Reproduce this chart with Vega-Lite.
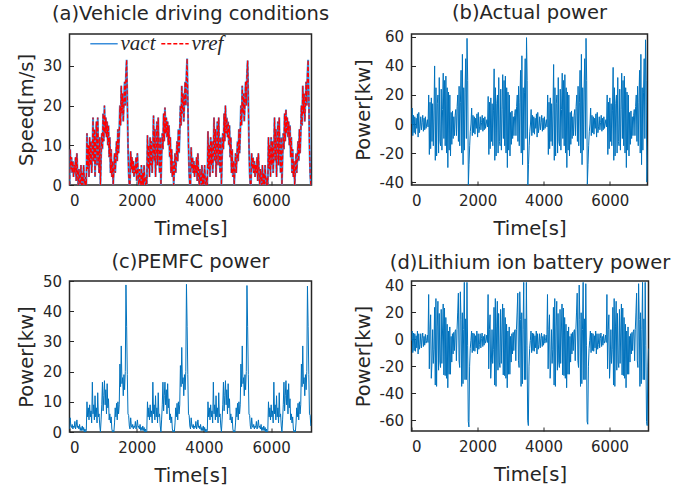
{
"$schema":"https://vega.github.io/schema/vega-lite/v6.json",
"background":"white",
"padding":{"left":15.5,"top":2,"right":10,"bottom":5},
"config":{
"font":"DejaVu Sans",
"view":{"stroke":"#262626","strokeWidth":1.5},
"axis":{"grid":false,"domain":false,"labelFont":"DejaVu Sans","labelFontSize":15,"labelColor":"#262626","titleFont":"DejaVu Sans","titleFontSize":19.5,"titleFontWeight":"normal","titleColor":"#262626","tickColor":"#262626","tickSize":-4,"labelPadding":12,"labelExpr":"'' + datum.value"},
"axisX":{"titlePadding":11.5},
"axisY":{"titlePadding":6},
"title":{"font":"DejaVu Sans","fontSize":19.5,"fontWeight":"normal","color":"#262626","offset":11}
},
"data":{"values":[
{"t":0,"v":0,"p":0,"f":1,"b":-1},{"t":20,"v":9,"p":11,"f":4.7,"b":6},{"t":40,"v":4,"p":-8,"f":2,"b":-10},{"t":60,"v":7,"p":6,"f":1.5,"b":4.5},{"t":80,"v":3,"p":-6,"f":2.5,"b":-8.5},{"t":100,"v":6,"p":5,"f":1,"b":4},{"t":120,"v":2,"p":-7,"f":2,"b":-9},{"t":140,"v":5,"p":4,"f":1.5,"b":2.5},{"t":160,"v":3,"p":-3,"f":3.5,"b":-6.5},{"t":180,"v":7,"p":7,"f":1,"b":6},
{"t":200,"v":1,"p":-9,"f":2,"b":-11},{"t":220,"v":8,"p":8,"f":4,"b":4},{"t":240,"v":3,"p":-6,"f":1.5,"b":-7.5},{"t":260,"v":0,"p":-2,"f":2,"b":-4},{"t":280,"v":4,"p":5,"f":1,"b":4},{"t":300,"v":1,"p":-4,"f":2.5,"b":-6.5},{"t":320,"v":0,"p":1,"f":0.5,"b":0.5},{"t":340,"v":5,"p":6,"f":1.5,"b":4.5},{"t":360,"v":0,"p":-5,"f":0.5,"b":-5.5},{"t":380,"v":3,"p":4,"f":2,"b":2},
{"t":400,"v":0,"p":-4,"f":0.5,"b":-4.5},{"t":420,"v":5,"p":5,"f":1.5,"b":3.5},{"t":440,"v":1,"p":-3,"f":0,"b":-3},{"t":460,"v":0,"p":0,"f":1,"b":-1},{"t":480,"v":2,"p":3,"f":0,"b":3},{"t":500,"v":0,"p":-2,"f":0.5,"b":-2.5},{"t":520,"v":13,"p":20,"f":10,"b":33},{"t":540,"v":4,"p":-21,"f":5,"b":-22},{"t":560,"v":10,"p":15,"f":8,"b":7},{"t":580,"v":2,"p":-17,"f":4,"b":18},
{"t":600,"v":12,"p":18,"f":9,"b":-29},{"t":620,"v":5,"p":-12,"f":5,"b":-17},{"t":640,"v":11,"p":14,"f":7,"b":7},{"t":660,"v":3,"p":-15,"f":3,"b":-18},{"t":680,"v":8,"p":9,"f":16.5,"b":-7.5},{"t":700,"v":17,"p":40,"f":6,"b":23.5},{"t":720,"v":6,"p":-25,"f":9,"b":-34},{"t":740,"v":14,"p":25,"f":4,"b":30},{"t":760,"v":2,"p":-22,"f":12,"b":-35},{"t":780,"v":10,"p":14,"f":5,"b":9},
{"t":800,"v":16,"p":20,"f":8,"b":28},{"t":820,"v":5,"p":-20,"f":3,"b":-23},{"t":840,"v":17,"p":32,"f":13,"b":19},{"t":860,"v":8,"p":-12,"f":5,"b":-17},{"t":880,"v":3,"p":-15,"f":6,"b":-21},{"t":900,"v":12,"p":24,"f":2,"b":22},{"t":920,"v":0,"p":-18,"f":0,"b":-18},{"t":940,"v":7,"p":10,"f":4,"b":6},{"t":960,"v":13,"p":35,"f":9,"b":26},{"t":980,"v":9,"p":-10,"f":16.5,"b":-26.5},
{"t":1000,"v":18,"p":30,"f":7,"b":23},{"t":1020,"v":11,"p":-15,"f":12,"b":-27},{"t":1040,"v":20,"p":33,"f":17,"b":16},{"t":1060,"v":13,"p":-20,"f":9,"b":-29},{"t":1080,"v":17,"p":25,"f":14,"b":11},{"t":1100,"v":12,"p":-30,"f":6,"b":-36},{"t":1120,"v":16,"p":22,"f":16,"b":6},{"t":1140,"v":10,"p":-18,"f":8,"b":-26},{"t":1160,"v":15,"p":20,"f":11,"b":9},{"t":1180,"v":7,"p":-22,"f":4,"b":-26},
{"t":1200,"v":12,"p":8,"f":6,"b":2},{"t":1220,"v":3,"p":-14,"f":3,"b":-17},{"t":1240,"v":9,"p":9,"f":5,"b":4},{"t":1260,"v":2,"p":-10,"f":1,"b":-11},{"t":1280,"v":6,"p":5,"f":0,"b":5},{"t":1300,"v":0,"p":-8,"f":0.5,"b":-8.5},{"t":1320,"v":4,"p":6,"f":0,"b":6},{"t":1340,"v":8,"p":10,"f":3,"b":7},{"t":1360,"v":3,"p":-8,"f":8,"b":-16},{"t":1380,"v":7,"p":12,"f":5,"b":7},
{"t":1400,"v":11,"p":20,"f":9.5,"b":20},{"t":1420,"v":6,"p":-12,"f":4,"b":34},{"t":1440,"v":14,"p":26,"f":10,"b":-16},{"t":1460,"v":8,"p":-15,"f":6,"b":-21},{"t":1480,"v":13,"p":15,"f":9,"b":35},{"t":1500,"v":20,"p":37,"f":22.5,"b":14.5},{"t":1520,"v":15,"p":-20,"f":15,"b":-35},{"t":1540,"v":25,"p":48,"f":28.5,"b":19.5},{"t":1560,"v":18,"p":-28,"f":16,"b":-33},{"t":1580,"v":23,"p":25,"f":18,"b":7},
{"t":1600,"v":16,"p":-18,"f":12,"b":42},{"t":1620,"v":21,"p":22,"f":19,"b":-30},{"t":1640,"v":26,"p":45,"f":14,"b":15},{"t":1660,"v":20,"p":-10,"f":20,"b":-30},{"t":1680,"v":28,"p":59,"f":48.7,"b":42},{"t":1700,"v":31.5,"p":30,"f":35,"b":-5},{"t":1720,"v":22,"p":-42,"f":19,"b":-61},{"t":1740,"v":10,"p":-28,"f":6,"b":-65},{"t":1760,"v":3,"p":-15,"f":5.5,"b":-20},{"t":1780,"v":0,"p":-5,"f":2,"b":-7},
{"t":1800,"v":0,"p":0,"f":1,"b":-1},{"t":1820,"v":8.5,"p":11,"f":4.7,"b":6},{"t":1840,"v":4,"p":-8,"f":2,"b":-10},{"t":1860,"v":7,"p":6,"f":1.5,"b":4.5},{"t":1880,"v":3,"p":-6,"f":2.5,"b":-8.5},{"t":1900,"v":6,"p":5,"f":1,"b":4},{"t":1920,"v":2,"p":-7,"f":2,"b":-9},{"t":1940,"v":5,"p":4,"f":1.5,"b":2.5},{"t":1960,"v":3,"p":-3,"f":3.5,"b":-6.5},{"t":1980,"v":7,"p":7,"f":1,"b":6},
{"t":2000,"v":1,"p":-9,"f":2,"b":-11},{"t":2020,"v":8,"p":8,"f":4,"b":4},{"t":2040,"v":3,"p":-6,"f":1.5,"b":-7.5},{"t":2060,"v":0,"p":-2,"f":2,"b":-4},{"t":2080,"v":4,"p":5,"f":1,"b":4},{"t":2100,"v":1,"p":-4,"f":2.5,"b":-6.5},{"t":2120,"v":0,"p":1,"f":0.5,"b":0.5},{"t":2140,"v":5,"p":6,"f":1.5,"b":4.5},{"t":2160,"v":0,"p":-5,"f":0.5,"b":-5.5},{"t":2180,"v":3,"p":4,"f":2,"b":2},
{"t":2200,"v":0,"p":-4,"f":0.5,"b":-4.5},{"t":2220,"v":5,"p":5,"f":1.5,"b":3.5},{"t":2240,"v":1,"p":-3,"f":0,"b":-3},{"t":2260,"v":0,"p":0,"f":1,"b":-1},{"t":2280,"v":2,"p":3,"f":0,"b":3},{"t":2300,"v":0,"p":-2,"f":0.5,"b":-2.5},{"t":2320,"v":12.5,"p":19,"f":10,"b":33},{"t":2340,"v":4,"p":-21,"f":5,"b":-22},{"t":2360,"v":10,"p":15,"f":8,"b":7},{"t":2380,"v":2,"p":-17,"f":4,"b":18},
{"t":2400,"v":12,"p":18,"f":9,"b":-29},{"t":2420,"v":5,"p":-12,"f":5,"b":-17},{"t":2440,"v":11,"p":14,"f":7,"b":7},{"t":2460,"v":3,"p":-15,"f":3,"b":-18},{"t":2480,"v":8,"p":9,"f":16.5,"b":-7.5},{"t":2500,"v":17.5,"p":38,"f":6,"b":23.5},{"t":2520,"v":6,"p":-25,"f":9,"b":-34},{"t":2540,"v":14,"p":25,"f":4,"b":30},{"t":2560,"v":2,"p":-22,"f":12,"b":-35},{"t":2580,"v":10,"p":14,"f":5,"b":9},
{"t":2600,"v":16,"p":20,"f":8,"b":28},{"t":2620,"v":5,"p":-20,"f":3,"b":-23},{"t":2640,"v":17,"p":32,"f":13,"b":19},{"t":2660,"v":8,"p":-12,"f":5,"b":-17},{"t":2680,"v":3,"p":-15,"f":6,"b":-21},{"t":2700,"v":12,"p":24,"f":2,"b":22},{"t":2720,"v":0,"p":-18,"f":0,"b":-18},{"t":2740,"v":7,"p":10,"f":4,"b":6},{"t":2760,"v":13,"p":34,"f":9,"b":26},{"t":2780,"v":9,"p":-10,"f":16.5,"b":-26.5},
{"t":2800,"v":18,"p":30,"f":7,"b":23},{"t":2820,"v":11,"p":-15,"f":12,"b":-27},{"t":2840,"v":19.5,"p":33,"f":16.5,"b":16},{"t":2860,"v":13,"p":-20,"f":9,"b":-29},{"t":2880,"v":17,"p":25,"f":14,"b":11},{"t":2900,"v":12,"p":-30,"f":6,"b":-36},{"t":2920,"v":16,"p":22,"f":16,"b":6},{"t":2940,"v":10,"p":-18,"f":8,"b":-26},{"t":2960,"v":15,"p":20,"f":11,"b":9},{"t":2980,"v":7,"p":-22,"f":4,"b":-26},
{"t":3000,"v":12,"p":8,"f":6,"b":2},{"t":3020,"v":3,"p":-14,"f":3,"b":-17},{"t":3040,"v":9,"p":9,"f":5,"b":4},{"t":3060,"v":2,"p":-10,"f":1,"b":-11},{"t":3080,"v":6,"p":5,"f":0,"b":5},{"t":3100,"v":0,"p":-8,"f":0.5,"b":-8.5},{"t":3120,"v":4,"p":6,"f":0,"b":6},{"t":3140,"v":8,"p":10,"f":3,"b":7},{"t":3160,"v":3,"p":-8,"f":8,"b":-16},{"t":3180,"v":7,"p":12,"f":5,"b":7},
{"t":3200,"v":11,"p":20,"f":9.5,"b":20},{"t":3220,"v":6,"p":-12,"f":4,"b":34},{"t":3240,"v":14,"p":26,"f":10,"b":-16},{"t":3260,"v":8,"p":-15,"f":6,"b":-21},{"t":3280,"v":13,"p":15,"f":9,"b":35},{"t":3300,"v":20,"p":37,"f":22,"b":14.5},{"t":3320,"v":15,"p":-20,"f":15,"b":-35},{"t":3340,"v":25,"p":47,"f":28,"b":19.5},{"t":3360,"v":18,"p":-28,"f":16,"b":-33},{"t":3380,"v":23,"p":25,"f":18,"b":7},
{"t":3400,"v":16,"p":-18,"f":12,"b":42},{"t":3420,"v":21,"p":22,"f":19,"b":-30},{"t":3440,"v":26,"p":45,"f":14,"b":15},{"t":3460,"v":20,"p":-10,"f":20,"b":-30},{"t":3480,"v":28,"p":59.5,"f":48.9,"b":42},{"t":3500,"v":31.8,"p":30,"f":35,"b":-5},{"t":3520,"v":22,"p":-42,"f":19,"b":-60},{"t":3540,"v":10,"p":-28,"f":6,"b":-64},{"t":3560,"v":3,"p":-15,"f":5.5,"b":-20},{"t":3580,"v":0,"p":-5,"f":2,"b":-7},
{"t":3600,"v":0,"p":0,"f":1,"b":-1},{"t":3620,"v":9.5,"p":10,"f":4.7,"b":6},{"t":3640,"v":4,"p":-8,"f":2,"b":-10},{"t":3660,"v":7,"p":6,"f":1.5,"b":4.5},{"t":3680,"v":3,"p":-6,"f":2.5,"b":-8.5},{"t":3700,"v":6,"p":5,"f":1,"b":4},{"t":3720,"v":2,"p":-7,"f":2,"b":-9},{"t":3740,"v":5,"p":4,"f":1.5,"b":2.5},{"t":3760,"v":3,"p":-3,"f":3.5,"b":-6.5},{"t":3780,"v":7,"p":7,"f":1,"b":6},
{"t":3800,"v":1,"p":-9,"f":2,"b":-11},{"t":3820,"v":8,"p":8,"f":4,"b":4},{"t":3840,"v":3,"p":-6,"f":1.5,"b":-7.5},{"t":3860,"v":0,"p":-2,"f":2,"b":-4},{"t":3880,"v":4,"p":5,"f":1,"b":4},{"t":3900,"v":1,"p":-4,"f":2.5,"b":-6.5},{"t":3920,"v":0,"p":1,"f":0.5,"b":0.5},{"t":3940,"v":5,"p":6,"f":1.5,"b":4.5},{"t":3960,"v":0,"p":-5,"f":0.5,"b":-5.5},{"t":3980,"v":3,"p":4,"f":2,"b":2},
{"t":4000,"v":0,"p":-4,"f":0.5,"b":-4.5},{"t":4020,"v":5,"p":5,"f":1.5,"b":3.5},{"t":4040,"v":1,"p":-3,"f":0,"b":-3},{"t":4060,"v":0,"p":0,"f":1,"b":-1},{"t":4080,"v":2,"p":3,"f":0,"b":3},{"t":4100,"v":0,"p":-2,"f":0.5,"b":-2.5},{"t":4120,"v":13.5,"p":20,"f":10,"b":33},{"t":4140,"v":4,"p":-21,"f":5,"b":-22},{"t":4160,"v":10,"p":15,"f":8,"b":7},{"t":4180,"v":2,"p":-17,"f":4,"b":18},
{"t":4200,"v":12,"p":18,"f":9,"b":-29},{"t":4220,"v":5,"p":-12,"f":5,"b":-17},{"t":4240,"v":11,"p":14,"f":7,"b":7},{"t":4260,"v":3,"p":-15,"f":3,"b":-18},{"t":4280,"v":8,"p":9,"f":16.5,"b":-7.5},{"t":4300,"v":17,"p":41,"f":6,"b":23.5},{"t":4320,"v":6,"p":-25,"f":9,"b":-34},{"t":4340,"v":14,"p":25,"f":4,"b":30},{"t":4360,"v":2,"p":-22,"f":12,"b":-35},{"t":4380,"v":10,"p":14,"f":5,"b":9},
{"t":4400,"v":16,"p":20,"f":8,"b":28},{"t":4420,"v":5,"p":-20,"f":3,"b":-23},{"t":4440,"v":17,"p":32,"f":13,"b":19},{"t":4460,"v":8,"p":-12,"f":5,"b":-17},{"t":4480,"v":3,"p":-15,"f":6,"b":-21},{"t":4500,"v":12,"p":24,"f":2,"b":22},{"t":4520,"v":0,"p":-18,"f":0,"b":-18},{"t":4540,"v":7,"p":10,"f":4,"b":6},{"t":4560,"v":13,"p":35,"f":9,"b":26},{"t":4580,"v":9,"p":-10,"f":16.5,"b":-26.5},
{"t":4600,"v":18,"p":30,"f":7,"b":23},{"t":4620,"v":11,"p":-15,"f":12,"b":-27},{"t":4640,"v":20,"p":34,"f":17,"b":16},{"t":4660,"v":13,"p":-20,"f":9,"b":-29},{"t":4680,"v":17,"p":25,"f":14,"b":11},{"t":4700,"v":12,"p":-30,"f":6,"b":-36},{"t":4720,"v":16,"p":22,"f":16,"b":6},{"t":4740,"v":10,"p":-18,"f":8,"b":-26},{"t":4760,"v":15,"p":20,"f":11,"b":9},{"t":4780,"v":7,"p":-22,"f":4,"b":-26},
{"t":4800,"v":12,"p":8,"f":6,"b":2},{"t":4820,"v":3,"p":-14,"f":3,"b":-17},{"t":4840,"v":9,"p":9,"f":5,"b":4},{"t":4860,"v":2,"p":-10,"f":1,"b":-11},{"t":4880,"v":6,"p":5,"f":0,"b":5},{"t":4900,"v":0,"p":-8,"f":0.5,"b":-8.5},{"t":4920,"v":4,"p":6,"f":0,"b":6},{"t":4940,"v":8,"p":10,"f":3,"b":7},{"t":4960,"v":3,"p":-8,"f":8,"b":-16},{"t":4980,"v":7,"p":12,"f":5,"b":7},
{"t":5000,"v":11,"p":20,"f":9.5,"b":20},{"t":5020,"v":6,"p":-12,"f":4,"b":34},{"t":5040,"v":14,"p":26,"f":10,"b":-16},{"t":5060,"v":8,"p":-15,"f":6,"b":-21},{"t":5080,"v":13,"p":15,"f":9,"b":40},{"t":5100,"v":20,"p":37,"f":22.5,"b":14.5},{"t":5120,"v":15,"p":-20,"f":15,"b":-35},{"t":5140,"v":25,"p":48,"f":28.5,"b":19.5},{"t":5160,"v":18,"p":-28,"f":16,"b":-33},{"t":5180,"v":23,"p":25,"f":18,"b":7},
{"t":5200,"v":16,"p":-18,"f":12,"b":42},{"t":5220,"v":21,"p":22,"f":19,"b":-30},{"t":5240,"v":26,"p":45,"f":14,"b":15},{"t":5260,"v":20,"p":-10,"f":20,"b":-30},{"t":5280,"v":28,"p":59,"f":48.5,"b":41},{"t":5300,"v":31.3,"p":30,"f":35,"b":-5},{"t":5320,"v":22,"p":-41.5,"f":19,"b":-61},{"t":5340,"v":10,"p":-28,"f":6,"b":-63},{"t":5360,"v":3,"p":-15,"f":5.5,"b":-20},{"t":5380,"v":0,"p":-5,"f":2,"b":-7},
{"t":5400,"v":0,"p":0,"f":1,"b":-1},{"t":5420,"v":8,"p":11,"f":4.7,"b":6},{"t":5440,"v":4,"p":-8,"f":2,"b":-10},{"t":5460,"v":7,"p":6,"f":1.5,"b":4.5},{"t":5480,"v":3,"p":-6,"f":2.5,"b":-8.5},{"t":5500,"v":6,"p":5,"f":1,"b":4},{"t":5520,"v":2,"p":-7,"f":2,"b":-9},{"t":5540,"v":5,"p":4,"f":1.5,"b":2.5},{"t":5560,"v":3,"p":-3,"f":3.5,"b":-6.5},{"t":5580,"v":7,"p":7,"f":1,"b":6},
{"t":5600,"v":1,"p":-9,"f":2,"b":-11},{"t":5620,"v":8,"p":8,"f":4,"b":4},{"t":5640,"v":3,"p":-6,"f":1.5,"b":-7.5},{"t":5660,"v":0,"p":-2,"f":2,"b":-4},{"t":5680,"v":4,"p":5,"f":1,"b":4},{"t":5700,"v":1,"p":-4,"f":2.5,"b":-6.5},{"t":5720,"v":0,"p":1,"f":0.5,"b":0.5},{"t":5740,"v":5,"p":6,"f":1.5,"b":4.5},{"t":5760,"v":0,"p":-5,"f":0.5,"b":-5.5},{"t":5780,"v":3,"p":4,"f":2,"b":2},
{"t":5800,"v":0,"p":-4,"f":0.5,"b":-4.5},{"t":5820,"v":5,"p":5,"f":1.5,"b":3.5},{"t":5840,"v":1,"p":-3,"f":0,"b":-3},{"t":5860,"v":0,"p":0,"f":1,"b":-1},{"t":5880,"v":2,"p":3,"f":0,"b":3},{"t":5900,"v":0,"p":-2,"f":0.5,"b":-2.5},{"t":5920,"v":12,"p":20,"f":10,"b":33},{"t":5940,"v":4,"p":-21,"f":5,"b":-22},{"t":5960,"v":10,"p":15,"f":8,"b":7},{"t":5980,"v":2,"p":-17,"f":4,"b":18},
{"t":6000,"v":12,"p":18,"f":9,"b":-29},{"t":6020,"v":5,"p":-12,"f":5,"b":-17},{"t":6040,"v":11,"p":14,"f":7,"b":7},{"t":6060,"v":3,"p":-15,"f":3,"b":-18},{"t":6080,"v":8,"p":9,"f":16.5,"b":-7.5},{"t":6100,"v":17,"p":39,"f":6,"b":23.5},{"t":6120,"v":6,"p":-25,"f":9,"b":-34},{"t":6140,"v":14,"p":25,"f":4,"b":30},{"t":6160,"v":2,"p":-22,"f":12,"b":-35},{"t":6180,"v":10,"p":14,"f":5,"b":9},
{"t":6200,"v":16,"p":20,"f":8,"b":28},{"t":6220,"v":5,"p":-20,"f":3,"b":-23},{"t":6240,"v":17,"p":32,"f":13,"b":19},{"t":6260,"v":8,"p":-12,"f":5,"b":-17},{"t":6280,"v":3,"p":-15,"f":6,"b":-21},{"t":6300,"v":12,"p":24,"f":2,"b":22},{"t":6320,"v":0,"p":-18,"f":0,"b":-18},{"t":6340,"v":7,"p":10,"f":4,"b":6},{"t":6360,"v":13,"p":35,"f":9,"b":26},{"t":6380,"v":9,"p":-10,"f":16.5,"b":-26.5},
{"t":6400,"v":18,"p":30,"f":7,"b":23},{"t":6420,"v":11,"p":-15,"f":12,"b":-27},{"t":6440,"v":19,"p":33,"f":17,"b":16},{"t":6460,"v":13,"p":-20,"f":9,"b":-29},{"t":6480,"v":17,"p":25,"f":14,"b":11},{"t":6500,"v":12,"p":-30,"f":6,"b":-36},{"t":6520,"v":16,"p":22,"f":16,"b":6},{"t":6540,"v":10,"p":-18,"f":8,"b":-26},{"t":6560,"v":15,"p":20,"f":11,"b":9},{"t":6580,"v":7,"p":-22,"f":4,"b":-26},
{"t":6600,"v":12,"p":8,"f":6,"b":2},{"t":6620,"v":3,"p":-14,"f":3,"b":-17},{"t":6640,"v":9,"p":9,"f":5,"b":4},{"t":6660,"v":2,"p":-10,"f":1,"b":-11},{"t":6680,"v":6,"p":5,"f":0,"b":5},{"t":6700,"v":0,"p":-8,"f":0.5,"b":-8.5},{"t":6720,"v":4,"p":6,"f":0,"b":6},{"t":6740,"v":8,"p":10,"f":3,"b":7},{"t":6760,"v":3,"p":-8,"f":8,"b":-16},{"t":6780,"v":7,"p":12,"f":5,"b":7},
{"t":6800,"v":11,"p":20,"f":9.5,"b":20},{"t":6820,"v":6,"p":-12,"f":4,"b":34},{"t":6840,"v":14,"p":26,"f":10,"b":-16},{"t":6860,"v":8,"p":-15,"f":6,"b":-21},{"t":6880,"v":13,"p":15,"f":9,"b":41},{"t":6900,"v":20,"p":37,"f":22.5,"b":14.5},{"t":6920,"v":15,"p":-20,"f":15,"b":-35},{"t":6940,"v":25,"p":48,"f":28.5,"b":19.5},{"t":6960,"v":18,"p":-28,"f":16,"b":-33},{"t":6980,"v":23,"p":25,"f":18,"b":7},
{"t":7000,"v":16,"p":-18,"f":12,"b":42},{"t":7020,"v":21,"p":22,"f":19,"b":-30},{"t":7040,"v":26,"p":45,"f":14,"b":15},{"t":7060,"v":20,"p":-10,"f":20,"b":-30},{"t":7080,"v":28,"p":58,"f":48.3,"b":42},{"t":7100,"v":31.5,"p":30,"f":35,"b":-5},{"t":7120,"v":22,"p":-40,"f":19,"b":-61},{"t":7140,"v":10,"p":-28,"f":6,"b":-64},{"t":7160,"v":3,"p":-15,"f":5.5,"b":-20},{"t":7180,"v":0,"p":-5,"f":2,"b":-7}
]},
"columns":2,
"spacing":{"row":96,"column":100},
"bounds":"flush",
"concat":[
{"width":242,"height":151,"title":{"text":"(a)Vehicle driving conditions","offset":10},
"layer":[
{"mark":{"type":"line","strokeWidth":2,"clip":true},
"encoding":{
"x":{"field":"t","type":"quantitative","scale":{"domain":[0,7200],"nice":false,"zero":false},"axis":{"values":[0,2000,4000,6000],"title":"Time[s]"}},
"y":{"field":"v","type":"quantitative","scale":{"domain":[0,38],"nice":false},"axis":{"values":[0,10,20,30],"title":"Speed[m/s]"}},
"color":{"datum":"vact","scale":{"domain":["vact","vref"],"range":["#3A8EDB","#FF0000"]},"legend":{"title":null,"orient":"none","legendX":20,"legendY":-5,"direction":"horizontal","labelFont":"Liberation Serif","labelFontStyle":"italic","labelFontSize":21,"labelColor":"#262626","symbolType":"stroke","symbolSize":750,"symbolStrokeWidth":1.5,"columnPadding":2,"labelOffset":2,"padding":0}},
"strokeDash":{"datum":"vact","scale":{"domain":["vact","vref"],"range":[[1,0],[4,2]]},"legend":{"title":null,"orient":"none","legendX":20,"legendY":-5,"direction":"horizontal","labelFont":"Liberation Serif","labelFontStyle":"italic","labelFontSize":21,"labelColor":"#262626","symbolType":"stroke","symbolSize":750,"symbolStrokeWidth":1.5,"columnPadding":2,"labelOffset":2,"padding":0}}
}},
{"mark":{"type":"line","strokeWidth":1.2,"clip":true},
"encoding":{
"x":{"field":"t","type":"quantitative"},
"y":{"field":"v","type":"quantitative"},
"color":{"datum":"vref"},
"strokeDash":{"datum":"vref"}
}}
]},
{"width":236,"height":151,"title":{"text":"(b)Actual power","offset":6.5},
"mark":{"type":"line","strokeWidth":1,"color":"#0072BD","clip":true},
"encoding":{
"x":{"field":"t","type":"quantitative","scale":{"domain":[0,7140],"nice":false,"zero":false},"axis":{"values":[0,2000,4000,6000],"title":"Time[s]"}},
"y":{"field":"p","type":"quantitative","scale":{"domain":[-42,62],"nice":false,"zero":false},"axis":{"values":[-40,-20,0,20,40,60],"title":"Power[kw]"}}
}},
{"width":242,"height":151,"title":{"text":"(c)PEMFC power","offset":2},
"mark":{"type":"line","strokeWidth":1,"color":"#0072BD","clip":true},
"encoding":{
"x":{"field":"t","type":"quantitative","scale":{"domain":[0,7200],"nice":false,"zero":false},"axis":{"values":[0,2000,4000,6000],"title":"Time[s]"}},
"y":{"field":"f","type":"quantitative","scale":{"domain":[0,50],"nice":false},"axis":{"values":[0,10,20,30,40,50],"title":"Power[kw]"}}
}},
{"width":237,"height":150,"title":{"text":"(d)Lithium ion battery power","offset":4.5},
"mark":{"type":"line","strokeWidth":1,"color":"#0072BD","clip":true},
"encoding":{
"x":{"field":"t","type":"quantitative","scale":{"domain":[0,7180],"nice":false,"zero":false},"axis":{"values":[0,2000,4000,6000],"title":"Time[s]"}},
"y":{"field":"b","type":"quantitative","scale":{"domain":[-68,43],"nice":false,"zero":false},"axis":{"values":[-60,-40,-20,0,20,40],"title":"Power[kw]"}}
}}
]
}
